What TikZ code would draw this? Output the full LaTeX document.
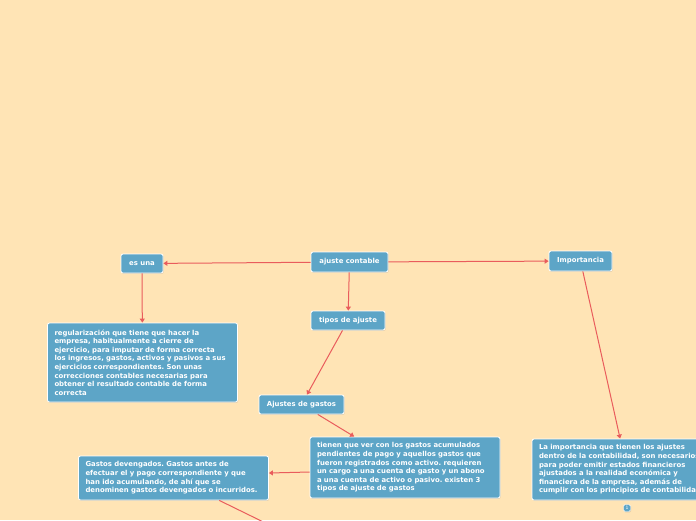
\documentclass[tikz,border=0pt]{standalone}
\usepackage{fontspec}
\setsansfont{DejaVu Sans}
\usetikzlibrary{arrows.meta,positioning,shadows}
\definecolor{bgcream}{RGB}{255,228,181}
\definecolor{boxblue}{RGB}{93,165,199}
\definecolor{linkred}{RGB}{233,92,92}

\begin{document}
\frenchspacing
\begin{tikzpicture}[x=1pt, y=-1pt, >={Triangle[length=4pt,width=5pt]},
    topic/.style={rectangle, rounded corners=2pt, fill=boxblue, draw=white,
      line width=0.8pt, text=white, inner sep=0pt,
      font=\sffamily\bfseries\fontsize{6.9}{8}\selectfont,
      drop shadow={shadow xshift=0.6pt, shadow yshift=-0.9pt, opacity=0.25}},
    note/.style={topic, align=left, inner xsep=7pt, text width=176pt,
      font=\sffamily\bfseries\fontsize{6.9}{8.6}\selectfont},
    link/.style={->, linkred, line width=1pt}]
    % --- canvas ---
    \useasboundingbox (0,0) rectangle (696,520);
    \clip (0,0) rectangle (696,520);
    \fill[bgcream] (0,0) rectangle (696,520);
    % --- top row ---
    \node[topic, minimum width=77pt, minimum height=20pt] (contable) at (349.5,262) {ajuste contable};
    \node[topic, minimum width=42pt, minimum height=19pt] (esuna) at (142,263.5) {es una};
    \node[topic, minimum width=63pt, minimum height=20pt] (importancia) at (580.5,261) {Importancia};
    \node[topic, minimum width=74pt, minimum height=19pt] (tipos) at (348,320.5) {tipos de ajuste};
    \node[topic, minimum width=85pt, minimum height=19pt] (ajgastos) at (301.5,404.5) {Ajustes de gastos};
    % --- text boxes ---
    \node[note, minimum height=79pt] (regular) at (142.5,362.5)
      {regularización que tiene que hacer la\\
       empresa, habitualmente a cierre de\\
       ejercicio, para imputar de forma correcta\\
       los ingresos, gastos, activos y pasivos a sus\\
       ejercicios correspondientes. Son unas\\
       correcciones contables necesarias para\\
       obtener el resultado contable de forma\\
       correcta};
    \node[note, minimum height=61pt] (tienen) at (405,467.5)
      {tienen que ver con los gastos acumulados\\
       pendientes de pago y aquellos gastos que\\
       fueron registrados como activo. requieren\\
       un cargo a una cuenta de gasto y un abono\\
       a una cuenta de activo o pasivo. existen 3\\
       tipos de ajuste de gastos};
    \node[note, minimum height=44pt] (devengados) at (173.5,478)
      {Gastos devengados. Gastos antes de\\
       efectuar el y pago correspondiente y que\\
       han ido acumulando, de ahí que se\\
       denominen gastos devengados o incurridos.};
    \node[note, minimum height=61pt] (laimport) at (627,469.5)
      {La importancia que tienen los ajustes\\
       dentro de la contabilidad, son necesarios\\
       para poder emitir estados financieros\\
       ajustados a la realidad económica y\\
       financiera de la empresa, además de\\
       cumplir con los principios de contabilidad};
    \node[topic, minimum width=7pt, minimum height=7pt, rounded corners=1.5pt,
      line width=0.4pt, font=\sffamily\fontsize{4.5}{4.5}\selectfont] (badge) at (627,508) {1};
    \coordinate (nextbelow) at (290,535);
    % --- connectors ---
    \draw[link] (contable) -- (esuna);
    \draw[link] (esuna) -- (regular);
    \draw[link] (contable) -- (tipos);
    \draw[link] (contable) -- (importancia);
    \draw[link] (tipos) -- (ajgastos);
    \draw[link] (ajgastos) -- (tienen);
    \draw[link] ([yshift=-4.5pt]tienen.west) -- ([yshift=5pt]devengados.east);
    \draw[link] (importancia) -- (laimport);
    \draw[link] (devengados) -- (nextbelow);
\end{tikzpicture}
\end{document}
